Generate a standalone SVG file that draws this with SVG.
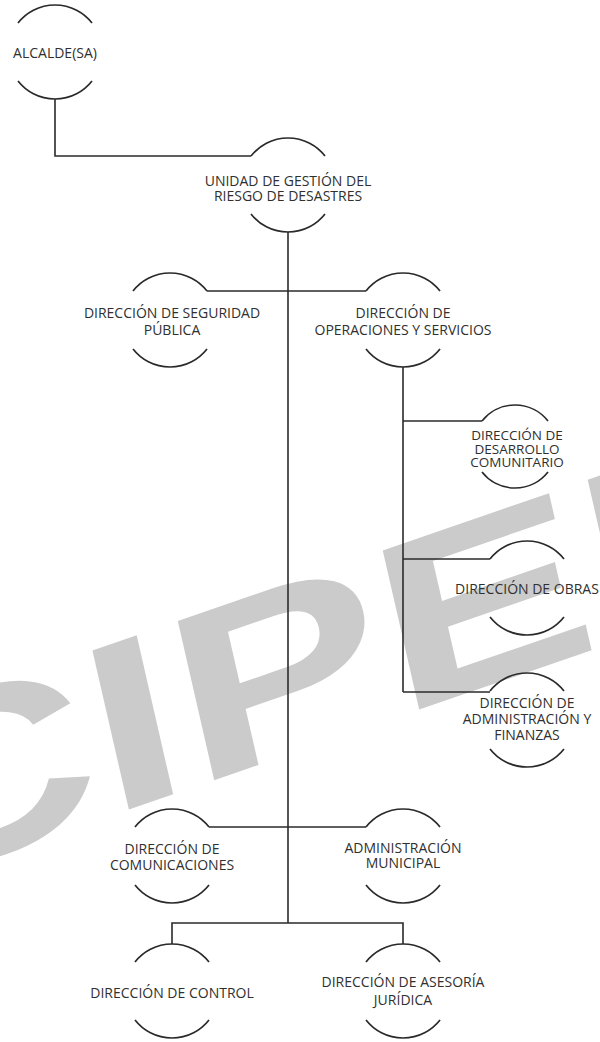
<svg xmlns="http://www.w3.org/2000/svg" width="600" height="1042" viewBox="0 0 600 1042">
<style>
.wm{font-family:"Liberation Sans",Arial,sans-serif;font-weight:bold;font-size:325px;fill:#cbcbcb}
.arc{fill:none;stroke:#2a2a2a;stroke-width:1.7}
.ln{fill:none;stroke:#2a2a2a;stroke-width:1.6}
text.t{font-family:"Open Sans","Liberation Sans",sans-serif;font-size:14px;fill:#303030;text-anchor:middle}
text.s{font-size:13.5px}
</style>
<rect width="600" height="1042" fill="#ffffff"/>
<text class="wm" transform="matrix(0.9455 -0.3256 0.163 0.712 -113.6 893.1)">CIPER</text>
<g id="connectors">
<path class="ln" d="M55,99 V156 H251"/>
<path class="ln" d="M288,232 V923"/>
<path class="ln" d="M207,291 H366"/>
<path class="ln" d="M403,367 V692"/>
<path class="ln" d="M403,421 H482"/>
<path class="ln" d="M403,559 H490"/>
<path class="ln" d="M403,692 H490"/>
<path class="ln" d="M209,827 H366"/>
<path class="ln" d="M172,944 V923 H403 V944"/>
</g>
<g id="alcalde">
<path class="arc" d="M18,23 A47,47 0 0 1 92,23"/>
<path class="arc" d="M18,81 A47,47 0 0 0 92,81"/>
<text class="t" x="55" y="58">ALCALDE(SA)</text>
</g>
<g id="unidad">
<path class="arc" d="M251,156 A47,47 0 0 1 325,156"/>
<path class="arc" d="M251,214 A47,47 0 0 0 325,214"/>
<text class="t" x="288" y="186">UNIDAD DE GESTIÓN DEL</text>
<text class="t" x="288" y="201">RIESGO DE DESASTRES</text>
</g>
<g id="seguridad">
<path class="arc" d="M133,291 A47,47 0 0 1 207,291"/>
<path class="arc" d="M133,349 A47,47 0 0 0 207,349"/>
<text class="t" x="172" y="318">DIRECCIÓN DE SEGURIDAD</text>
<text class="t" x="172" y="335">PÚBLICA</text>
</g>
<g id="operaciones">
<path class="arc" d="M366,291 A47,47 0 0 1 440,291"/>
<path class="arc" d="M366,349 A47,47 0 0 0 440,349"/>
<text class="t" x="403" y="318">DIRECCIÓN DE</text>
<text class="t" x="403" y="335">OPERACIONES Y SERVICIOS</text>
</g>
<g id="desarrollo">
<path class="arc" d="M482,421 A42,42 0 0 1 548,421"/>
<path class="arc" d="M482,472 A42,42 0 0 0 548,472"/>
<text class="t s" x="517" y="440">DIRECCIÓN DE</text>
<text class="t s" x="517" y="454">DESARROLLO</text>
<text class="t s" x="517" y="467">COMUNITARIO</text>
</g>
<g id="obras">
<path class="arc" d="M490,559 A47,47 0 0 1 564,559"/>
<path class="arc" d="M490,617 A47,47 0 0 0 564,617"/>
<text class="t" x="527" y="594">DIRECCIÓN DE OBRAS</text>
</g>
<g id="finanzas">
<path class="arc" d="M490,691 A47,47 0 0 1 564,691"/>
<path class="arc" d="M490,749 A47,47 0 0 0 564,749"/>
<text class="t" x="527" y="708">DIRECCIÓN DE</text>
<text class="t" x="527" y="724">ADMINISTRACIÓN Y</text>
<text class="t" x="527" y="740">FINANZAS</text>
</g>
<g id="comunicaciones">
<path class="arc" d="M135,827 A47,47 0 0 1 209,827"/>
<path class="arc" d="M135,885 A47,47 0 0 0 209,885"/>
<text class="t" x="172" y="854">DIRECCIÓN DE</text>
<text class="t" x="172" y="870">COMUNICACIONES</text>
</g>
<g id="municipal">
<path class="arc" d="M366,827 A47,47 0 0 1 440,827"/>
<path class="arc" d="M366,885 A47,47 0 0 0 440,885"/>
<text class="t" x="403" y="853">ADMINISTRACIÓN</text>
<text class="t" x="403" y="868">MUNICIPAL</text>
</g>
<g id="control">
<path class="arc" d="M135,962 A47,47 0 0 1 209,962"/>
<path class="arc" d="M135,1020 A47,47 0 0 0 209,1020"/>
<text class="t" x="172" y="998">DIRECCIÓN DE CONTROL</text>
</g>
<g id="asesoria">
<path class="arc" d="M366,962 A47,47 0 0 1 440,962"/>
<path class="arc" d="M366,1020 A47,47 0 0 0 440,1020"/>
<text class="t" x="403" y="987">DIRECCIÓN DE ASESORÍA</text>
<text class="t" x="403" y="1005">JURÍDICA</text>
</g>
</svg>
